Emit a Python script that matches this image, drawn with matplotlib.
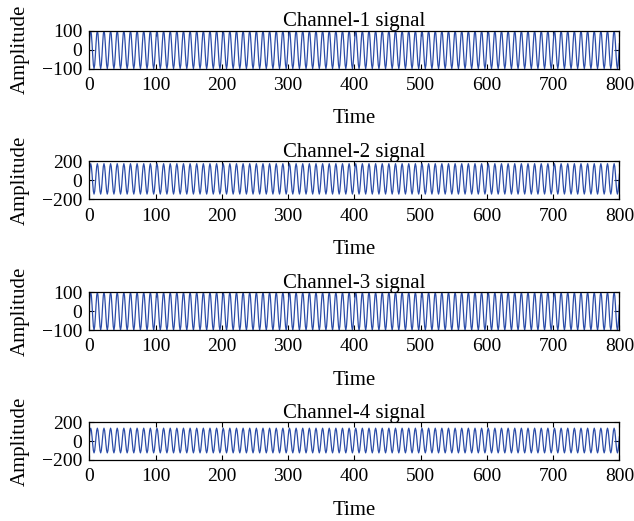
import matplotlib
matplotlib.use('Agg')
import matplotlib.pyplot as plt
import numpy as np

plt.rcParams['font.family'] = ['Liberation Serif', 'DejaVu Serif']
plt.rcParams['font.size'] = 15

# time axis, one sample per unit
time = np.arange(0, 801)

# one period (10 samples) of each channel
ch1_cycle = [31, 81, 100, 81, 31, -31, -81, -100, -81, -31]
ch2_cycle = [65, 145, 175, 145, 65, -35, -115, -145, -115, -35]
ch3_cycle = [31, 81, 100, 81, 31, -31, -81, -100, -81, -31]
ch4_cycle = [45, 110, 135, 110, 45, -35, -100, -125, -100, -35]

titles = ['Channel-1 signal', 'Channel-2 signal', 'Channel-3 signal', 'Channel-4 signal']
ylims = [100, 200, 100, 200]
xticks = list(range(0, 801, 100))

cycles = [ch1_cycle, ch2_cycle, ch3_cycle, ch4_cycle]
bottoms = [0.8685, 0.6175, 0.3666, 0.1171]

fig = plt.figure(figsize=(6.34, 5.21), dpi=100)
for cyc, title, lim, b in zip(cycles, titles, ylims, bottoms):
    ax = fig.add_axes([0.141, b, 0.836, 0.0729])
    sig = np.tile(cyc, len(time) // len(cyc) + 1)[:len(time)]
    ax.plot(time, sig, color='#2b4ca8', linewidth=0.9)
    ax.set_xlim(0, 800)
    ax.set_ylim(-lim, lim)
    ax.set_xticks(xticks)
    ax.set_yticks([-lim, 0, lim])
    ax.tick_params(direction='in', length=3.6, width=0.8, top=True, right=True, labelsize=14)
    ax.tick_params(axis='x', pad=6)
    ax.tick_params(axis='y', pad=5)
    for s in ax.spines.values():
        s.set_linewidth(0.9)
    ax.set_title(title, fontsize=15, pad=3)
    ax.set_xlabel('Time', labelpad=11)
    ax.set_ylabel('Amplitude', labelpad=9)

plt.savefig('out.png', dpi=100)
